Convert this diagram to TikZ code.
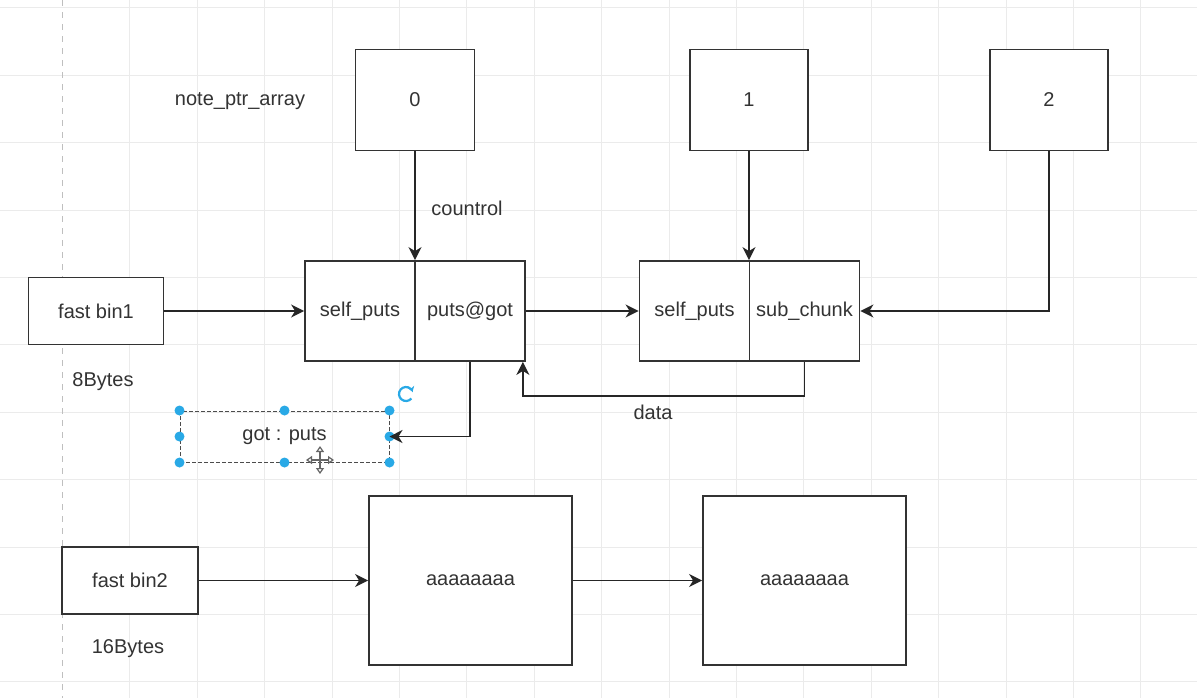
\documentclass[tikz,border=0pt]{standalone}
\usepackage{fontspec}
\setmainfont{Liberation Sans}
\usetikzlibrary{arrows.meta,calc}
\definecolor{txt}{HTML}{333333}
\definecolor{gridcol}{HTML}{EBEBEB}
\definecolor{selcol}{HTML}{29A9E6}
\tikzset{
  cell/.style={draw=black!80, line width=0.9pt, fill=white, text=txt,
    font=\fontsize{10}{12}\selectfont, inner sep=0pt},
  lbl/.style={text=txt, font=\fontsize{10}{12}\selectfont, inner sep=0pt},
  link/.style={draw=black!85, line width=0.85pt, -{Stealth[length=6.5pt,width=6.5pt,inset=2pt]}},
  handle/.style={circle, fill=selcol, inner sep=0pt, minimum size=5pt}
}
\begin{document}
\begin{tikzpicture}[x=0.5pt, y=-0.5pt]
\fill[white] (0,0) rectangle (1197,698);
\useasboundingbox (0,0) rectangle (1197,698);
% grid
\foreach \k in {1,...,16}
  \draw[gridcol, line width=0.5pt] (62.5+67.4*\k,0) -- (62.5+67.4*\k,698);
\foreach \k in {0,...,10}
  \draw[gridcol, line width=0.5pt] (0,7.8+67.4*\k) -- (1197,7.8+67.4*\k);
\draw[black!25, dashed, line width=0.5pt] (62.5,0) -- (62.5,698);

% pointer array
\node[lbl] (arrname) at (240,101) {note\_ptr\_array};
\node[cell, minimum width=59.5pt, minimum height=50.5pt] (p0) at (415,100) {0};
\node[cell, minimum width=59pt, minimum height=50.5pt] (p1) at (749,100) {1};
\node[cell, minimum width=59pt, minimum height=50.5pt] (p2) at (1049,100) {2};

% chunks
\node[cell, minimum width=55pt, minimum height=50pt] (c1a) at (360,311) {self\_puts};
\node[cell, minimum width=55pt, minimum height=50pt] (c1b) at (470,311) {puts@got};
\node[cell, minimum width=55pt, minimum height=50pt] (c2a) at (694.5,311) {self\_puts};
\node[cell, minimum width=55pt, minimum height=50pt] (c2b) at (804.5,311) {sub\_chunk};

% fast bins
\node[cell, minimum width=67.5pt, minimum height=33.5pt] (bin1) at (96,311) {fast bin1};
\node[lbl] (size1) at (103,382) {8Bytes};
\node[cell, minimum width=68pt, minimum height=33.5pt] (bin2) at (130,580.5) {fast bin2};
\node[lbl] (size2) at (128,649) {16Bytes};
\node[cell, minimum width=101.5pt, minimum height=84.5pt] (big1) at (470.5,580.5) {aaaaaaaa};
\node[cell, minimum width=101.5pt, minimum height=84.5pt] (big2) at (804.5,580.5) {aaaaaaaa};

% selected text box
\node[lbl, draw=black!70, dash pattern=on 2pt off 1pt, line width=0.5pt, minimum width=104.5pt,
  minimum height=25.5pt] (got) at (284.5,436.5) {got : puts};
\foreach \a [count=\i] in {north west,north,north east,east,south east,south,south west,west}
  \node[handle] (h\i) at (got.\a) {};
\draw[selcol, line width=1.1pt, -{Stealth[length=2.5pt,width=3.5pt]}] (406,394) ++(40:7)
  arc[start angle=40, end angle=340, radius=7];
\draw[black!60, line width=0.6pt, {Triangle[fill=white,length=3pt,width=4pt]}-{Triangle[fill=white,length=3pt,width=4pt]}]
  (306,460) -- (334,460);
\draw[black!60, line width=0.6pt, {Triangle[fill=white,length=3pt,width=4pt]}-{Triangle[fill=white,length=3pt,width=4pt]}]
  (320,446) -- (320,474);

% links
\draw[link] (p0.south) -- (p0.south |- c1a.north);
\node[lbl] (ctl) at (467,208) {countrol};
\draw[link] (p1.south) -- (p1.south |- c2a.north);
\draw[link] (p2.south) |- (c2b.east);
\draw[link] (bin1.east) -- (c1a.west);
\draw[link] (c1b.east) -- (c2a.west);
\draw[link] (c2b.south) -- ++(0,34) -| ($(c1b.south east)+(-3,0)$);
\node[lbl] (datalbl) at (653,412) {data};
\draw[link] (c1b.south) |- (got.east);
\draw[link] (bin2.east) -- (big1.west);
\draw[link] (big1.east) -- (big2.west);
\end{tikzpicture}
\end{document}
